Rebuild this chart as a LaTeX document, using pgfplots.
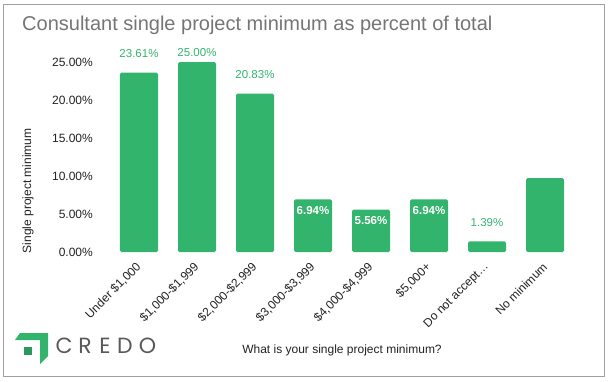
\documentclass[border=0pt]{standalone}
\usepackage{fontspec}
\setmainfont{Liberation Sans}
\newfontfamily\logofont{Poppins}
\usepackage{pgfplots}
\pgfplotsset{compat=1.18}
\definecolor{cgreen}{HTML}{33B46D}
\definecolor{titlec}{HTML}{757575}
\definecolor{tickc}{HTML}{222222}
\definecolor{framec}{HTML}{A0A0A0}
\definecolor{logoc}{HTML}{58595B}
\begin{document}
\begin{tikzpicture}[x=1pt,y=1pt]
\useasboundingbox (0,0) rectangle (611,381);
\draw[framec, line width=1.3pt] (3.5,4.5) rectangle (604.5,376.5);
\begin{axis}[
  at={(95.5pt,129pt)}, anchor=south west,
  x=58pt, y=7.6pt,
  xmin=-0.75, xmax=7.75, ymin=0, ymax=25,
  clip=false,
  axis line style={draw=none},
  major tick length=0pt,
  xtick={0,...,7},
  xticklabels={Under \$1{,}000,\$1{,}000-\$1{,}999,\$2{,}000-\$2{,}999,\$3{,}000-\$3{,}999,\$4{,}000-\$4{,}999,\$5{,}000+,Do not accept…,No minimum},
  ytick={0,5,10,15,20,25},
  yticklabels={0.00\%,5.00\%,10.00\%,15.00\%,20.00\%,25.00\%},
  tick label style={font=\fontsize{12}{14}\selectfont, text=tickc},
  yticklabel style={anchor=east, inner sep=0pt},
  yticklabel shift=2.5pt,
  xticklabel style={rotate=45, anchor=east, inner sep=0pt},
  xticklabel shift=13pt,
  title={Consultant single project minimum as percent of total},
  title style={at={(axis cs:-2.017,28.29)}, anchor=base west, inner sep=0pt, font=\fontsize{20}{24}\selectfont, text=titlec},
  xlabel={What is your single project minimum?},
  every axis x label/.style={at={(axis cs:3.5,-12.9)}, anchor=center, font=\fontsize{12}{14}\selectfont, text=tickc},
  ylabel={Single project minimum},
  every axis y label/.style={at={(axis cs:-1.914,8.03)}, rotate=90, anchor=center, font=\fontsize{12}{14}\selectfont, text=tickc},
]
\addplot[ybar, bar width=38pt, bar shift=0pt, fill=cgreen, draw=none, rounded corners=1.5pt]
  coordinates {(0,23.61)(1,25.00)(2,20.83)(3,6.94)(4,5.56)(5,6.94)(6,1.39)(7,9.72)};
\addplot[draw=none, mark=none, point meta=y,
  nodes near coords={\pgfmathprintnumber[assume math mode=true,fixed,fixed zerofill,precision=2]{\pgfplotspointmeta}\%},
  nodes near coords style={anchor=south, inner sep=0pt, yshift=15pt, text=cgreen, font=\fontsize{11.5}{13}\selectfont}]
  coordinates {(0,23.61)(2,20.83)(6,1.39)};
\addplot[draw=none, mark=none, point meta=y,
  nodes near coords={\pgfmathprintnumber[assume math mode=true,fixed,fixed zerofill,precision=2]{\pgfplotspointmeta}\%},
  nodes near coords style={anchor=south, inner sep=0pt, yshift=5pt, text=cgreen, font=\fontsize{11.5}{13}\selectfont}]
  coordinates {(1,25.00)};
\addplot[draw=none, mark=none, point meta=y,
  nodes near coords={\pgfmathprintnumber[assume math mode=true,fixed,fixed zerofill,precision=2]{\pgfplotspointmeta}\%},
  nodes near coords style={anchor=north, inner sep=0pt, yshift=-7pt, text=white, font=\bfseries\fontsize{11.5}{13}\selectfont}]
  coordinates {(3,6.94)(4,5.56)(5,6.94)};
\end{axis}
% CREDO logo
\fill[cgreen] (20,48) -- (48,48) -- (48,25) -- (40,17) -- (40,41) -- (15,41) -- cycle;
\fill[cgreen!85!black] (24,26) rectangle (32,34);
\foreach \l/\xx in {C/64,R/85,E/105,D/125,O/147.5}
  \node[anchor=base, inner sep=0pt, text=logoc, font=\logofont\fontsize{22}{22}\selectfont] at (\xx,27.5) {\l};
\end{tikzpicture}
\end{document}
